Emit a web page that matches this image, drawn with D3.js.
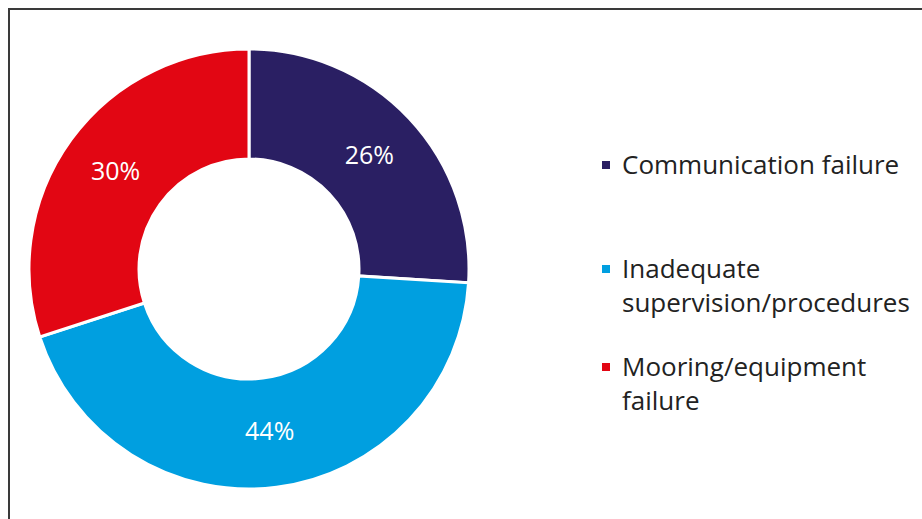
<!DOCTYPE html>
<html>
<head>
<meta charset="utf-8">
<script src="https://cdn.jsdelivr.net/npm/d3@7"></script>
<style>
  html, body { margin: 0; padding: 0; background: #fff; }
  svg { display: block; }
  text { font-family: "Open Sans", Lato, sans-serif; }
</style>
</head>
<body>
<div id="chart"></div>
<script>
// Causes of incidents, share of total
const categories = ["Communication failure", "Inadequate supervision/procedures", "Mooring/equipment failure"];
const shares = [26, 44, 30];
const colors = ["#2a1f63", "#009fe0", "#e20613"];
// Legend labels broken into lines
const legendLines = [
  ["Communication failure"],
  ["Inadequate", "supervision/procedures"],
  ["Mooring/equipment", "failure"]
];

const W = 922, H = 519;
const svg = d3.select("#chart").append("svg").attr("width", W).attr("height", H);

// Chart frame (runs off the right and bottom edges)
svg.append("rect")
  .attr("x", 9).attr("y", 9).attr("width", 940).attr("height", 540)
  .attr("fill", "none").attr("stroke", "#3a3a3a").attr("stroke-width", 2);

const cx = 249, cy = 269, outerR = 220, innerR = 110;

const pie = d3.pie().sort(null).value(d => d)(shares);
const arc = d3.arc().innerRadius(innerR).outerRadius(outerR);
const labelArc = d3.arc().innerRadius((innerR + outerR) / 2).outerRadius((innerR + outerR) / 2);

const g = svg.append("g").attr("transform", `translate(${cx},${cy})`);
g.selectAll("path.slice")
  .data(pie)
  .join("path")
  .attr("class", "slice")
  .attr("d", arc)
  .attr("fill", (d, i) => colors[i])
  .attr("stroke", "#fff")
  .attr("stroke-width", 3);

g.selectAll("text.val")
  .data(pie)
  .join("text")
  .attr("class", "val")
  .attr("transform", d => `translate(${labelArc.centroid(d)})`)
  .attr("text-anchor", "middle")
  .attr("dy", "0.3em")
  .attr("fill", "#fff")
  .attr("font-size", 25)
  .text(d => d.data + "%");

// Legend
const legendY = [165, 269, 367];
const lg = svg.append("g");
categories.forEach((c, i) => {
  lg.append("rect")
    .attr("x", 602).attr("y", legendY[i] - 4)
    .attr("width", 8).attr("height", 8)
    .attr("fill", colors[i]);
  const t = lg.append("text")
    .attr("x", 622).attr("y", legendY[i])
    .attr("font-size", 26)
    .attr("fill", "#222");
  legendLines[i].forEach((line, j) => {
    t.append("tspan").attr("x", 622).attr("dy", j === 0 ? "0.35em" : 34).text(line);
  });
});
</script>
</body>
</html>
